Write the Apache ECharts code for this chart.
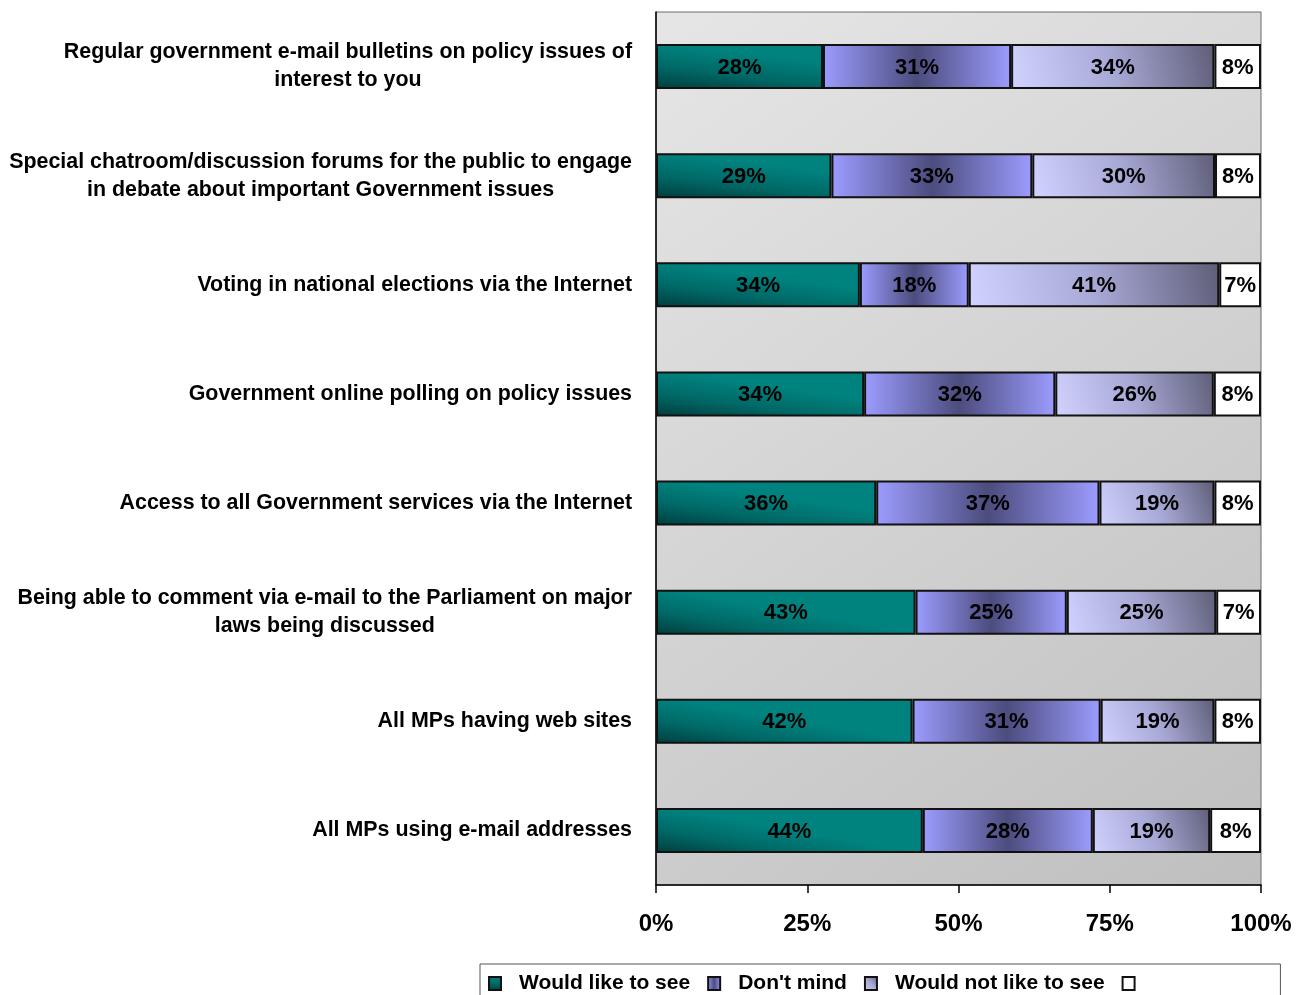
<!DOCTYPE html>
<html>
<head>
<meta charset="utf-8">
<script src="https://cdn.jsdelivr.net/npm/echarts@6/dist/echarts.min.js"></script>
<style>
  html, body { margin: 0; padding: 0; background: #ffffff; }
  #chart { width: 1304px; height: 995px; }
</style>
</head>
<body>
<div id="chart"></div>
<script>
// Survey items, top to bottom
const categories = [
  'Regular government e-mail bulletins on policy issues of\ninterest to you',
  'Special chatroom/discussion forums for the public to engage\nin debate about important Government issues',
  'Voting in national elections via the Internet',
  'Government online polling on policy issues',
  'Access to all Government services via the Internet',
  'Being able to comment via e-mail to the Parliament on major\nlaws being discussed',
  'All MPs having web sites',
  'All MPs using e-mail addresses'
];

const seriesNames = ['Would like to see', "Don't mind", 'Would not like to see', ' '];

// Shares of respondents (%), one entry per item
const wouldLike = [27.6, 29.0, 33.7, 34.4, 36.4, 42.9, 42.4, 44.1];
const dontMind  = [31.1, 33.2, 18.0, 31.6, 36.9, 25.0, 31.1, 28.1];
const wouldNot  = [33.6, 30.2, 41.4, 26.2, 19.0, 24.7, 18.8, 19.4];
const noAnswer  = [7.7, 7.6, 6.9, 7.8, 7.7, 7.4, 7.7, 8.4];

const xTicks = [0, 25, 50, 75, 100];

const FONT = '"Liberation Sans", Arial, sans-serif';

const fills = [
  new echarts.graphic.LinearGradient(0, 1, 0.03, 0, [
    { offset: 0, color: '#003c3c' },
    { offset: 0.5, color: '#006866' },
    { offset: 1, color: '#00827e' }
  ]),
  new echarts.graphic.LinearGradient(0, 0, 1, 0, [
    { offset: 0, color: '#9c9cff' },
    { offset: 0.5, color: '#4c4c7e' },
    { offset: 1, color: '#9c9cff' }
  ]),
  new echarts.graphic.LinearGradient(0, 1, 1, 0, [
    { offset: 0, color: '#d2d2ff' },
    { offset: 0.5, color: '#a8a8d6' },
    { offset: 1, color: '#5e5e78' }
  ]),
  '#ffffff'
];

const values = [wouldLike, dontMind, wouldNot, noAnswer];

const chart = echarts.init(document.getElementById('chart'), null, { renderer: 'canvas' });

chart.setOption({
  animation: false,
  backgroundColor: '#ffffff',
  grid: {
    left: 656,
    right: 43,
    top: 12,
    bottom: 110,
    show: true,
    borderWidth: 1,
    borderColor: '#6a6a6a',
    backgroundColor: new echarts.graphic.LinearGradient(0, 0, 1, 1, [
      { offset: 0, color: '#e6e6e6' },
      { offset: 1, color: '#bfbfbf' }
    ])
  },
  legend: {
    left: 480,
    top: 964,
    orient: 'horizontal',
    data: seriesNames,
    icon: 'rect',
    itemWidth: 12,
    itemHeight: 13,
    itemGap: 17,
    padding: [9, 122, 17, 8],
    borderColor: '#555555',
    borderWidth: 1,
    backgroundColor: '#ffffff',
    textStyle: {
      fontFamily: FONT,
      fontWeight: 'bold',
      fontSize: 21,
      color: '#000000',
      padding: [0, 0, 0, 13]
    }
  },
  xAxis: {
    type: 'value',
    min: xTicks[0],
    max: xTicks[xTicks.length - 1],
    interval: 25,
    position: 'bottom',
    axisLine: { show: true, lineStyle: { color: '#000000', width: 1.5 } },
    axisTick: { show: true, length: 8, lineStyle: { color: '#000000', width: 1.5 } },
    splitLine: { show: false },
    axisLabel: {
      margin: 27,
      formatter: '{value}%',
      fontFamily: FONT,
      fontWeight: 'bold',
      fontSize: 24,
      color: '#000000'
    }
  },
  yAxis: {
    type: 'category',
    inverse: true,
    data: categories,
    axisLine: { show: true, lineStyle: { color: '#000000', width: 1.5 } },
    axisTick: { show: false },
    axisLabel: {
      margin: 24,
      align: 'right',
      formatter: function (v) {
        return v.split('\n').map(function (l) { return '{c|' + l + '}'; }).join('\n');
      },
      rich: {
        c: {
          align: 'center',
          fontFamily: FONT,
          fontWeight: 'bold',
          fontSize: 21.4,
          lineHeight: 28,
          color: '#000000'
        }
      }
    }
  },
  series: seriesNames.map(function (name, i) {
    return {
      name: name,
      type: 'bar',
      stack: 'total',
      barWidth: 45,
      data: values[i],
      itemStyle: {
        color: fills[i],
        borderColor: '#111111',
        borderWidth: 2
      },
      label: {
        show: true,
        position: 'inside',
        offset: [0, 1],
        formatter: function (p) { return Math.round(p.value) + '%'; },
        fontFamily: FONT,
        fontWeight: 'bold',
        fontSize: 22,
        color: '#000000'
      },
      emphasis: { disabled: true }
    };
  })
});
</script>
</body>
</html>
